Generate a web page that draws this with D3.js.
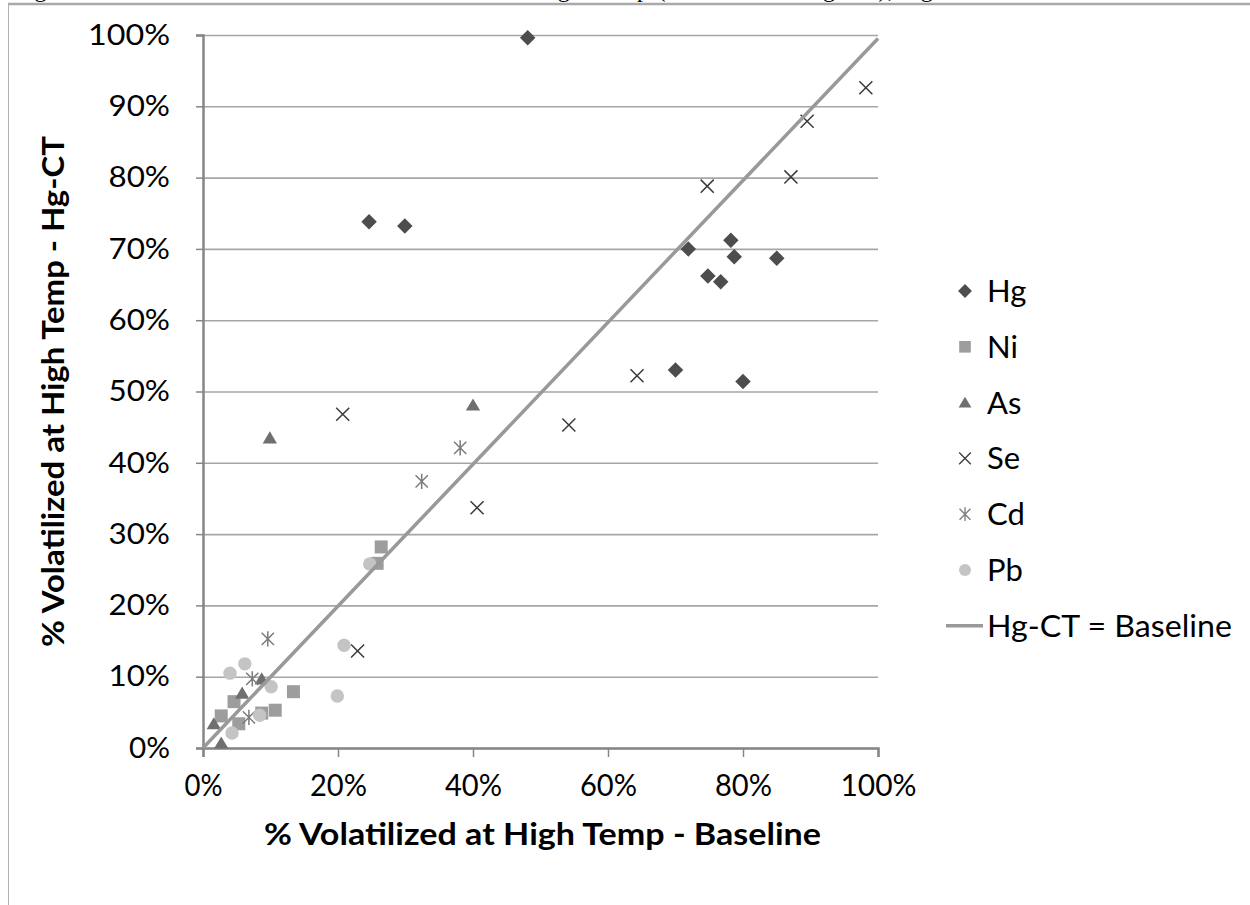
<!DOCTYPE html>
<html>
<head>
<meta charset="utf-8">
<script src="https://cdn.jsdelivr.net/npm/d3@7"></script>
<style>
    body { margin: 0; background: #fff; }
    svg { display: block; }
</style>
</head>
<body>
<div id="chart"></div>
<script>
// Series values: [baseline, Hg-CT] as fractions
var hgPoints = [[0.481, 0.996], [0.246, 0.738], [0.299, 0.732], [0.719, 0.700],
                [0.782, 0.712], [0.748, 0.662], [0.787, 0.689], [0.767, 0.654],
                [0.850, 0.687], [0.700, 0.530], [0.800, 0.514]];
var niPoints = [[0.264, 0.282], [0.258, 0.259], [0.134, 0.079], [0.046, 0.065],
                [0.027, 0.045], [0.053, 0.034], [0.107, 0.053], [0.087, 0.049]];
var asPoints = [[0.099, 0.435], [0.400, 0.481], [0.087, 0.097], [0.058, 0.077],
                [0.016, 0.034], [0.027, 0.007]];
var sePoints = [[0.982, 0.926], [0.895, 0.879], [0.747, 0.788], [0.871, 0.801],
                [0.643, 0.522], [0.542, 0.453], [0.207, 0.468], [0.406, 0.337],
                [0.229, 0.136]];
var cdPoints = [[0.381, 0.421], [0.324, 0.374], [0.096, 0.153], [0.073, 0.097],
                [0.068, 0.043]];
var pbPoints = [[0.247, 0.258], [0.209, 0.144], [0.199, 0.073], [0.062, 0.118],
                [0.040, 0.105], [0.101, 0.086], [0.084, 0.046], [0.043, 0.021]];
var linePoints = [[0, 0], [1, 0.995]];

// Series names in legend order
var seriesNames = ['Hg', 'Ni', 'As', 'Se', 'Cd', 'Pb'];
var lineName = 'Hg-CT = Baseline';

// Tick values of both axes
var xTicks = [0, 0.2, 0.4, 0.6, 0.8, 1.0];
var yTicks = [0, 0.1, 0.2, 0.3, 0.4, 0.5, 0.6, 0.7, 0.8, 0.9, 1.0];

// Axis titles
var xTitle = '% Volatilized at High Temp - Baseline';
var yTitle = '% Volatilized at High Temp - Hg-CT';
var figureTitle = 'Figure 6. Percent of Trace Metals Volatilized at High Temp (Baseline vs. Hg-CT), Hg and Se';

/* Marker shapes drawn as custom d3 symbol types so that they look like
   the spreadsheet markers
*/
var diamondType = { draw: function(c, s) {
    var r = Math.sqrt(s) / 2;
    c.moveTo(0, -r); c.lineTo(r, 0); c.lineTo(0, r); c.lineTo(-r, 0); c.closePath();
}};
var squareType = { draw: function(c, s) {
    var r = Math.sqrt(s) / 2;
    c.rect(-r, -r, 2 * r, 2 * r);
}};
var triangleType = { draw: function(c, s) {
    var r = Math.sqrt(s) / 2;
    c.moveTo(0, -r); c.lineTo(r * 1.1, r * 0.85); c.lineTo(-r * 1.1, r * 0.85); c.closePath();
}};
var crossType = { draw: function(c, s) {
    var r = Math.sqrt(s) / 2;
    c.moveTo(-r, -r); c.lineTo(r, r); c.moveTo(r, -r); c.lineTo(-r, r);
}};
var starType = { draw: function(c, s) {
    var r = Math.sqrt(s) / 2;
    c.moveTo(-r, -r); c.lineTo(r, r); c.moveTo(r, -r); c.lineTo(-r, r);
    c.moveTo(0, -r * 1.25); c.lineTo(0, r * 1.25);
}};
var circleType = { draw: function(c, s) {
    var r = Math.sqrt(s) / 2;
    c.moveTo(r, 0); c.arc(0, 0, r, 0, 2 * Math.PI);
}};

// Style of every scatter series, in the same order as the names
var seriesStyle = [
    { data: hgPoints, type: diamondType,  size: 240, fill: '#4d4d4d', stroke: 'none' },
    { data: niPoints, type: squareType,   size: 169, fill: '#9d9d9d', stroke: 'none' },
    { data: asPoints, type: triangleType, size: 170, fill: '#6f6f6f', stroke: 'none' },
    { data: sePoints, type: crossType,    size: 170, fill: 'none',    stroke: '#3a3a3a' },
    { data: cdPoints, type: starType,     size: 150, fill: 'none',    stroke: '#7c7c7c' },
    { data: pbPoints, type: circleType,   size: 180, fill: '#c4c4c4', stroke: 'none' }
];

var W = 1250, H = 905;
var margin = { top: 35, left: 203 };
var width = 675, height = 713;

var svg = d3.select('#chart').append('svg')
    .attr('width', W)
    .attr('height', H);

// Frame of the surrounding chart box and the clipped figure caption
svg.append('line').attr('x1', 8).attr('x2', W).attr('y1', 4).attr('y2', 4)
    .attr('stroke', '#a9a9a9').attr('stroke-width', 2.5);
svg.append('line').attr('x1', 8.5).attr('x2', 8.5).attr('y1', 4).attr('y2', H)
    .attr('stroke', '#b0b0b0').attr('stroke-width', 1);
svg.append('text')
    .attr('x', 12).attr('y', -3)
    .attr('font-family', 'Liberation Serif, serif')
    .attr('font-size', '24px')
    .attr('textLength', 1000)
    .attr('lengthAdjust', 'spacing')
    .text(figureTitle);

var g = svg.append('g')
    .attr('transform', 'translate(' + margin.left + ',' + margin.top + ')');

// Scales of the chart
var xScale = d3.scaleLinear().domain([0, 1]).range([0, width]);
var yScale = d3.scaleLinear().domain([0, 1]).range([height, 0]);

// Horizontal gridlines
g.append('g')
    .call(d3.axisLeft(yScale).tickValues(yTicks).tickSize(-width).tickFormat(''))
    .call(function(s) {
        s.select('.domain').remove();
        s.selectAll('line').attr('stroke', '#a6a6a6').attr('stroke-width', 1.6);
    });

// X axis
var xAxis = g.append('g')
    .attr('transform', 'translate(0,' + height + ')')
    .call(d3.axisBottom(xScale).tickValues(xTicks).tickSize(9).tickPadding(17)
        .tickFormat(d3.format('.0%')));

// Y axis
var yAxis = g.append('g')
    .call(d3.axisLeft(yScale).tickValues(yTicks).tickSize(7).tickPadding(26)
        .tickFormat(d3.format('.0%')));

[xAxis, yAxis].forEach(function(ax) {
    ax.select('.domain').attr('stroke', '#868686').attr('stroke-width', 2.5);
    ax.selectAll('.tick line').attr('stroke', '#868686').attr('stroke-width', 1.5);
    ax.selectAll('text')
        .attr('fill', '#000')
        .attr('font-family', 'Lato, sans-serif');
});
xAxis.selectAll('text')
    .attr('font-size', '31px')
    .attr('lengthAdjust', 'spacingAndGlyphs')
    .attr('textLength', function(d) { return d3.format('.0%')(d).length * 19; });
yAxis.selectAll('text')
    .attr('font-size', '29px')
    .attr('lengthAdjust', 'spacingAndGlyphs')
    .attr('textLength', function(d) { return d3.format('.0%')(d).length * 20.5; });

// Axis titles
g.append('text')
    .attr('x', width / 2 + 2)
    .attr('y', height + 97)
    .attr('text-anchor', 'middle')
    .attr('font-family', 'Lato, sans-serif')
    .attr('font-weight', 'bold')
    .attr('font-size', '31px')
    .attr('textLength', 557)
    .attr('lengthAdjust', 'spacingAndGlyphs')
    .text(xTitle);
g.append('text')
    .attr('transform', 'translate(' + (64 - margin.left) + ',' + (height / 2) + ') rotate(-90)')
    .attr('text-anchor', 'middle')
    .attr('font-family', 'Lato, sans-serif')
    .attr('font-weight', 'bold')
    .attr('font-size', '31px')
    .attr('textLength', 511)
    .attr('lengthAdjust', 'spacingAndGlyphs')
    .text(yTitle);

// Scatter markers of every series
seriesStyle.forEach(function(st, i) {
    var sym = d3.symbol().type(st.type).size(st.size);
    g.append('g')
        .classed('series-' + seriesNames[i], true)
        .selectAll('path')
        .data(st.data)
        .enter()
        .append('path')
        .attr('transform', function(d) {
            return 'translate(' + xScale(d[0]) + ',' + yScale(d[1]) + ')';
        })
        .attr('d', sym)
        .attr('fill', st.fill)
        .attr('stroke', st.stroke)
        .attr('stroke-width', 1.5);
});

// Equality line drawn on top of the markers
g.append('path')
    .datum(linePoints)
    .attr('d', d3.line()
        .x(function(d) { return xScale(d[0]); })
        .y(function(d) { return yScale(d[1]); }))
    .attr('fill', 'none')
    .attr('stroke', '#999999')
    .attr('stroke-width', 3.5);

// Legend on the right side
var legend = svg.append('g').attr('transform', 'translate(965,291)');
var rowGap = 55.8;
seriesStyle.forEach(function(st, i) {
    var row = legend.append('g').attr('transform', 'translate(0,' + i * rowGap + ')');
    row.append('path')
        .attr('d', d3.symbol().type(st.type).size(st.size * 0.8))
        .attr('fill', st.fill)
        .attr('stroke', st.stroke)
        .attr('stroke-width', 1.3);
    row.append('text')
        .attr('x', 22)
        .attr('y', 11)
        .attr('font-family', 'Lato, sans-serif')
        .attr('font-size', '31px')
        .text(seriesNames[i]);
});
var lineRow = legend.append('g').attr('transform', 'translate(0,' + 6 * rowGap + ')');
lineRow.append('line')
    .attr('x1', -19).attr('x2', 18).attr('y1', 0).attr('y2', 0)
    .attr('stroke', '#999999').attr('stroke-width', 3.5);
lineRow.append('text')
    .attr('x', 22)
    .attr('y', 11)
    .attr('font-family', 'Lato, sans-serif')
    .attr('font-size', '31px')
    .attr('textLength', 245)
    .attr('lengthAdjust', 'spacingAndGlyphs')
    .text(lineName);
</script>
</body>
</html>
